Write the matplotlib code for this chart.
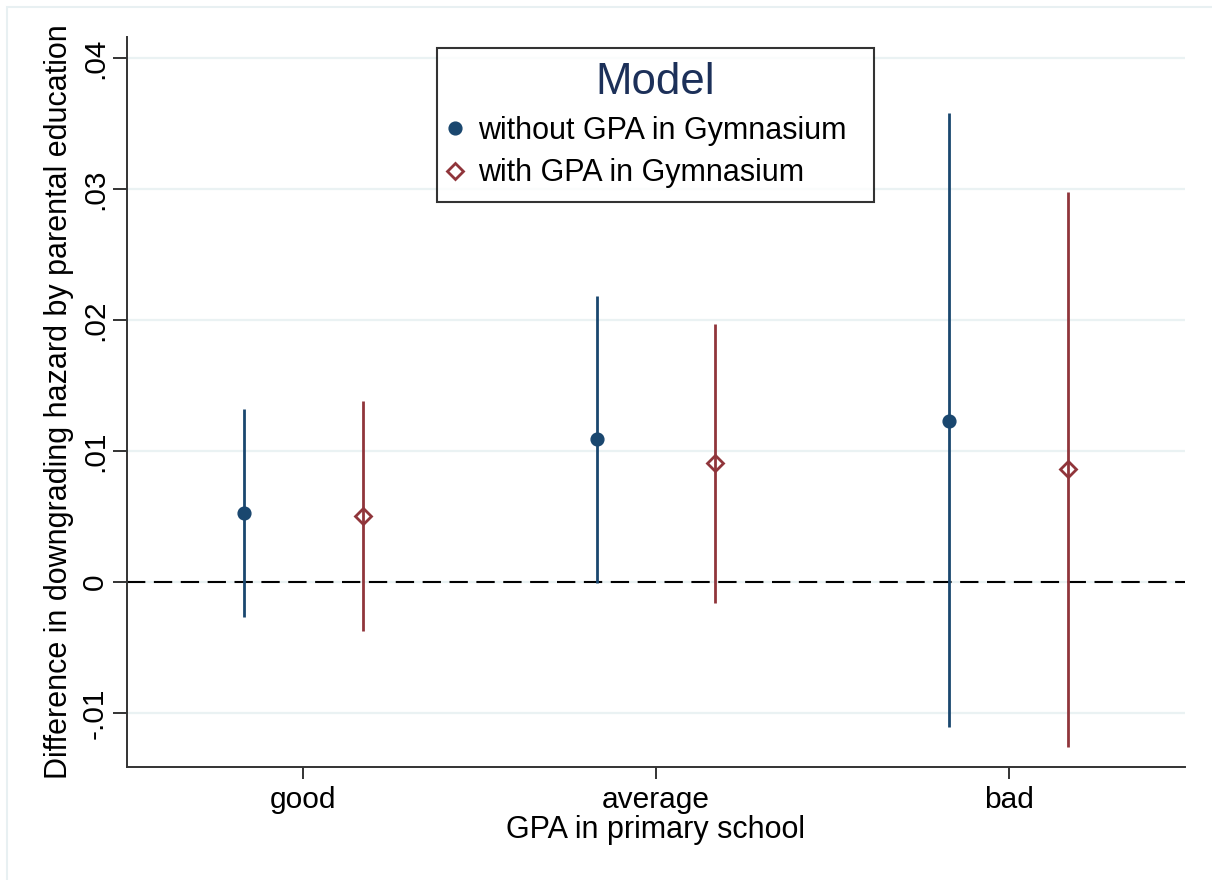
import matplotlib
matplotlib.use("Agg")
import matplotlib.pyplot as plt
from matplotlib.patches import Rectangle
import numpy as np

plt.rcParams['font.family'] = ['Liberation Sans', 'DejaVu Sans']

categories = ['good', 'average', 'bad']
est_without = [0.00527, 0.01092, 0.01229]
lo_without = [-0.00267, -0.0001, -0.01107]
hi_without = [0.01321, 0.02183, 0.0358]
est_with = [0.00504, 0.00908, 0.00863]
lo_with = [-0.00374, -0.0016, -0.0126]
hi_with = [0.01382, 0.01969, 0.02977]
yticks = [-0.01, 0, 0.01, 0.02, 0.03, 0.04]
ytick_labels = ['-.01', '0', '.01', '.02', '.03', '.04']

blue = '#1a476f'
red = '#90353b'
W, H = 1212, 880

fig = plt.figure(figsize=(W / 100, H / 100), dpi=100)
fig.add_artist(Rectangle((6.5 / W, -0.05), 1.1, 1 - 6.5 / H + 0.05,
                         transform=fig.transFigure, fill=False,
                         ec='#e8f0f2', lw=1.5))
ax = fig.add_axes([127 / W, (H - 767) / H, 1058 / W, 730 / H])

x = np.arange(1, len(categories) + 1)
off = 0.168

ax.axhline(0, color='black', lw=1.5, ls=(0, (8.8, 4.1)), zorder=1.5)

ax.vlines(x - off, lo_without, hi_without, color=blue, lw=2, zorder=2)
ax.vlines(x + off, lo_with, hi_with, color=red, lw=2, zorder=2)
ax.plot(x - off, est_without, 'o', color=blue, ms=9.2, ls='none', zorder=3,
        label='without GPA in Gymnasium')
ax.plot(x + off, est_with, 'D', color=red, mfc='none', mew=2, ms=7.8,
        ls='none', zorder=3, label='with GPA in Gymnasium')

ax.set_xlim(0.5, 3.5)
ax.set_ylim(-0.014122, 0.0416)
ax.set_xticks(x)
ax.set_xticklabels(categories)
ax.set_yticks(yticks)
ax.set_yticklabels(ytick_labels, rotation=90, va='center')

ax.grid(axis='y', color='#eaf2f3', lw=1.6, zorder=0)
ax.set_axisbelow(True)
for s in ['top', 'right']:
    ax.spines[s].set_visible(False)
for s in ['left', 'bottom']:
    ax.spines[s].set_color('#333333')
    ax.spines[s].set_linewidth(1.4)
ax.tick_params(axis='y', length=10, width=1.4, color='#333333', pad=3,
               labelsize=21.5)
ax.tick_params(axis='x', length=8.6, width=1.4, color='#333333', pad=5,
               labelsize=21.5)

ax.set_xlabel('GPA in primary school', fontsize=22, labelpad=1)
ax.set_ylabel('Difference in downgrading hazard by parental education',
              fontsize=22)
ax.yaxis.set_label_coords((74 - 127) / 1058, 0.5)

leg = ax.legend(title='Model', loc='upper left', mode='expand',
                bbox_to_anchor=(437 / W, 1 - 201 / H, 437 / W, 153 / H),
                bbox_transform=fig.transFigure, frameon=True, fancybox=False,
                edgecolor='black', fontsize=22, title_fontsize=31.5,
                handlelength=0.3, handletextpad=0.6, borderpad=0.45,
                labelspacing=0.42, borderaxespad=0)
leg.get_frame().set_linewidth(1.5)
leg.get_title().set_color('#1c3059')

fig.savefig('out.png', dpi=100)
